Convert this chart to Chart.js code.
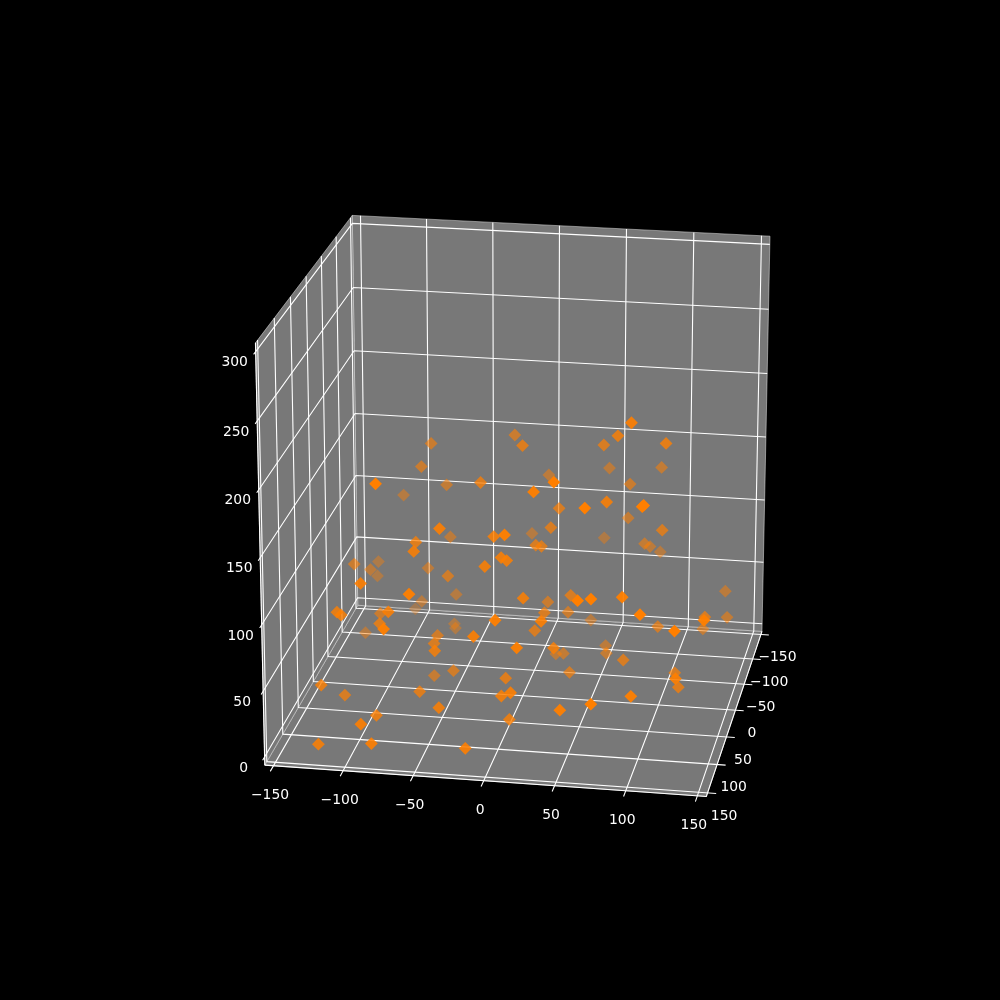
<!DOCTYPE html>
<html><head><meta charset="utf-8">
<script src="https://cdn.jsdelivr.net/npm/chart.js@4/dist/chart.umd.js"></script>
<style>html,body{margin:0;background:#000}canvas{display:block}</style>
</head><body><canvas id="c" width="1000" height="1000"></canvas>
<script>
const xTicks = [-150, -100, -50, 0, 50, 100, 150];
const yTicks = [-150, -100, -50, 0, 50, 100, 150];
const zTicks = [0, 50, 100, 150, 200, 250, 300];

const xs = [-18,-1,-78,-84,-81,-108,-69,-29,-44,-68,-10,
  5,-72,-65,-83,-56,-15,-4,0,-128,-128,-125,
  -128,-96,84,69,53,103,45,86,1,40,23,
  67,24,62,67,101,102,64,19,98,-12,9,
  13,38,77,78,83,-58,-90,-107,-65,13,-120,
  -117,-107,-80,-94,-74,-130,2,-69,-68,-61,-16,-59,
  -50,18,-48,-68,-3,-128,-120,-63,2,12,-41,-88,
  -90,5,-123,-82,-17,13,36,61,70,88,18,28,
  104,35,30,12,96,128,132,145,123,140,135,33,
  14,23,50,54,76,35,113,125,119,98,74,50];
const ys = [-69,-5,-57,-50,125,-101,-69,9,86,-77,61,
  101,32,74,-67,-5,69,65,65,-17,-102,-59,
  -98,109,38,2,-36,-2,-115,-101,-106,103,87,
  -72,-15,105,39,98,98,-84,-9,-23,-108,-3,
  -4,-137,-80,-101,-120,126,-77,-136,-83,72,79,
  79,-8,92,56,137,-62,122,-96,-95,10,108,33,
  76,126,17,-12,53,98,57,67,98,117,108,99,
  142,83,132,145,135,-32,5,128,126,101,12,-32,
  124,-94,96,18,-20,123,-7,97,-66,-72,-99,61,
  -62,-42,-70,-48,14,3,10,93,34,123,149,135];
const zs = [171,186,165,149,198,107,129,161,153,85,140,
  157,121,130,63,82,120,126,124,82,52,62,
  42,117,223,200,179,195,133,141,128,199,185,
  137,136,182,163,183,184,106,123,121,80,111,
  110,69,88,78,67,118,32,2,37,99,82,
  80,48,90,66,95,10,101,8,5,41,82,44,
  56,83,17,0,29,33,9,20,34,45,26,13,
  24,10,2,11,8,56,77,122,123,116,65,49,
  113,19,92,53,47,102,62,101,29,37,47,58,
  3,12,9,12,33,16,24,54,23,51,54,42];

// axis limits carry a small margin past the outer ticks, like mplot3d
const pad = 6.25;
const xMin = -150 - pad, xMax = 150 + pad;
const yMin = -150 - pad, yMax = 150 + pad;
const zMin = -pad, zMax = 300 + pad;

// camera: elev 20, azim -80, y axis runs towards the viewer
const elev = 20 * Math.PI / 180, azim = -80 * Math.PI / 180, dist = 10;
const cx = 522.7, cy = 495.1, sx = 4359, sy = 4344;
const n = [Math.cos(elev) * Math.cos(azim), Math.cos(elev) * Math.sin(azim), Math.sin(elev)];
const nl = Math.hypot(n[0], n[1]);
const u = [-n[1] / nl, n[0] / nl, 0];
const v = [n[1] * u[2] - n[2] * u[1], n[2] * u[0] - n[0] * u[2], n[0] * u[1] - n[1] * u[0]];
const dot = (a, b) => a[0] * b[0] + a[1] * b[1] + a[2] * b[2];

function world(x, y, z) {
  return [(x - xMin) / (xMax - xMin) - 0.5, (yMax - y) / (yMax - yMin) - 0.5, (z - zMin) / (zMax - zMin) - 0.5];
}
function depth(x, y, z) {
  return dot(world(x, y, z), n);
}
function project(x, y, z) {
  const w = world(x, y, z);
  const s = dist - dot(w, n);
  return { x: cx + sx * dot(w, u) / s, y: cy - sy * dot(w, v) / s };
}

const ds = [];
const line = (pts) => ds.push({ data: pts.map(p => project(...p)), showLine: true, borderColor: '#fff', borderWidth: 1.1, pointRadius: 0, fill: false });
const pane = (pts) => ds.push({ data: pts.map(p => project(...p)), showLine: true, borderColor: 'rgba(255,255,255,.45)', borderWidth: 1, backgroundColor: '#787878', fill: 'shape', pointRadius: 0 });

pane([[xMin, yMin, zMin], [xMax, yMin, zMin], [xMax, yMax, zMin], [xMin, yMax, zMin], [xMin, yMin, zMin]]);
pane([[xMin, yMin, zMin], [xMax, yMin, zMin], [xMax, yMin, zMax], [xMin, yMin, zMax], [xMin, yMin, zMin]]);
pane([[xMin, yMin, zMin], [xMin, yMax, zMin], [xMin, yMax, zMax], [xMin, yMin, zMax], [xMin, yMin, zMin]]);

// axis lines
line([[xMin, yMax, zMin], [xMax, yMax, zMin], [xMax, yMin, zMin]]);
line([[xMin, yMax, zMin], [xMin, yMax, zMax]]);

// each grid line starts with its outward tick
for (const t of xTicks) line([[t, yMax + 10, zMin], [t, yMin, zMin], [t, yMin, zMax]]);
for (const t of yTicks) line([[xMax + 6, t, zMin], [xMin, t, zMin], [xMin, t, zMax]]);
for (const t of zTicks) line([[xMin, yMax + 6, t], [xMin, yMin, t], [xMax, yMin, t]]);

// points far to near, faded with distance
const order = xs.map((_, i) => i).sort((a, b) => depth(xs[a], ys[a], zs[a]) - depth(xs[b], ys[b], zs[b]));
const depths = order.map(i => depth(xs[i], ys[i], zs[i]));
const near = depths[depths.length - 1], far = depths[0];
ds.push({
  data: order.map(i => project(xs[i], ys[i], zs[i])),
  pointStyle: 'rectRot',
  pointRadius: 6.4,
  borderWidth: 0,
  backgroundColor: depths.map(d => `rgba(255,127,0,${0.3 + 0.7 * (d - far) / (near - far)})`),
});

// Chart.js paints the first dataset on top
ds.reverse();

const tickText = {
  id: 'tickText',
  afterDraw(chart) {
    const { ctx, scales } = chart;
    ctx.save();
    ctx.fillStyle = '#fff';
    ctx.font = "13.9px 'DejaVu Sans'";
    ctx.textAlign = 'center';
    ctx.textBaseline = 'middle';
    const put = (t, p, dx, dy) => ctx.fillText(String(t).replace('-', '\u2212'), scales.x.getPixelForValue(p.x) + dx, scales.y.getPixelForValue(p.y) + dy);
    xTicks.forEach(t => put(t, project(t, yMax, zMin), -3.5, 30));
    yTicks.forEach(t => put(t, project(xMax, t, zMin), 16.5, 23));
    zTicks.forEach(t => put(t, project(xMin, yMax, t), -21, 11));
    ctx.restore();
  },
};

new Chart(document.getElementById('c'), {
  type: 'scatter',
  data: { datasets: ds },
  plugins: [tickText],
  options: {
    responsive: false,
    animation: false,
    devicePixelRatio: 1,
    layout: { padding: 0, autoPadding: false },
    plugins: { legend: { display: false }, tooltip: { enabled: false } },
    scales: {
      x: { display: false, min: 0, max: 1000 },
      y: { display: false, min: 0, max: 1000, reverse: true },
    },
  },
});
</script></body></html>
